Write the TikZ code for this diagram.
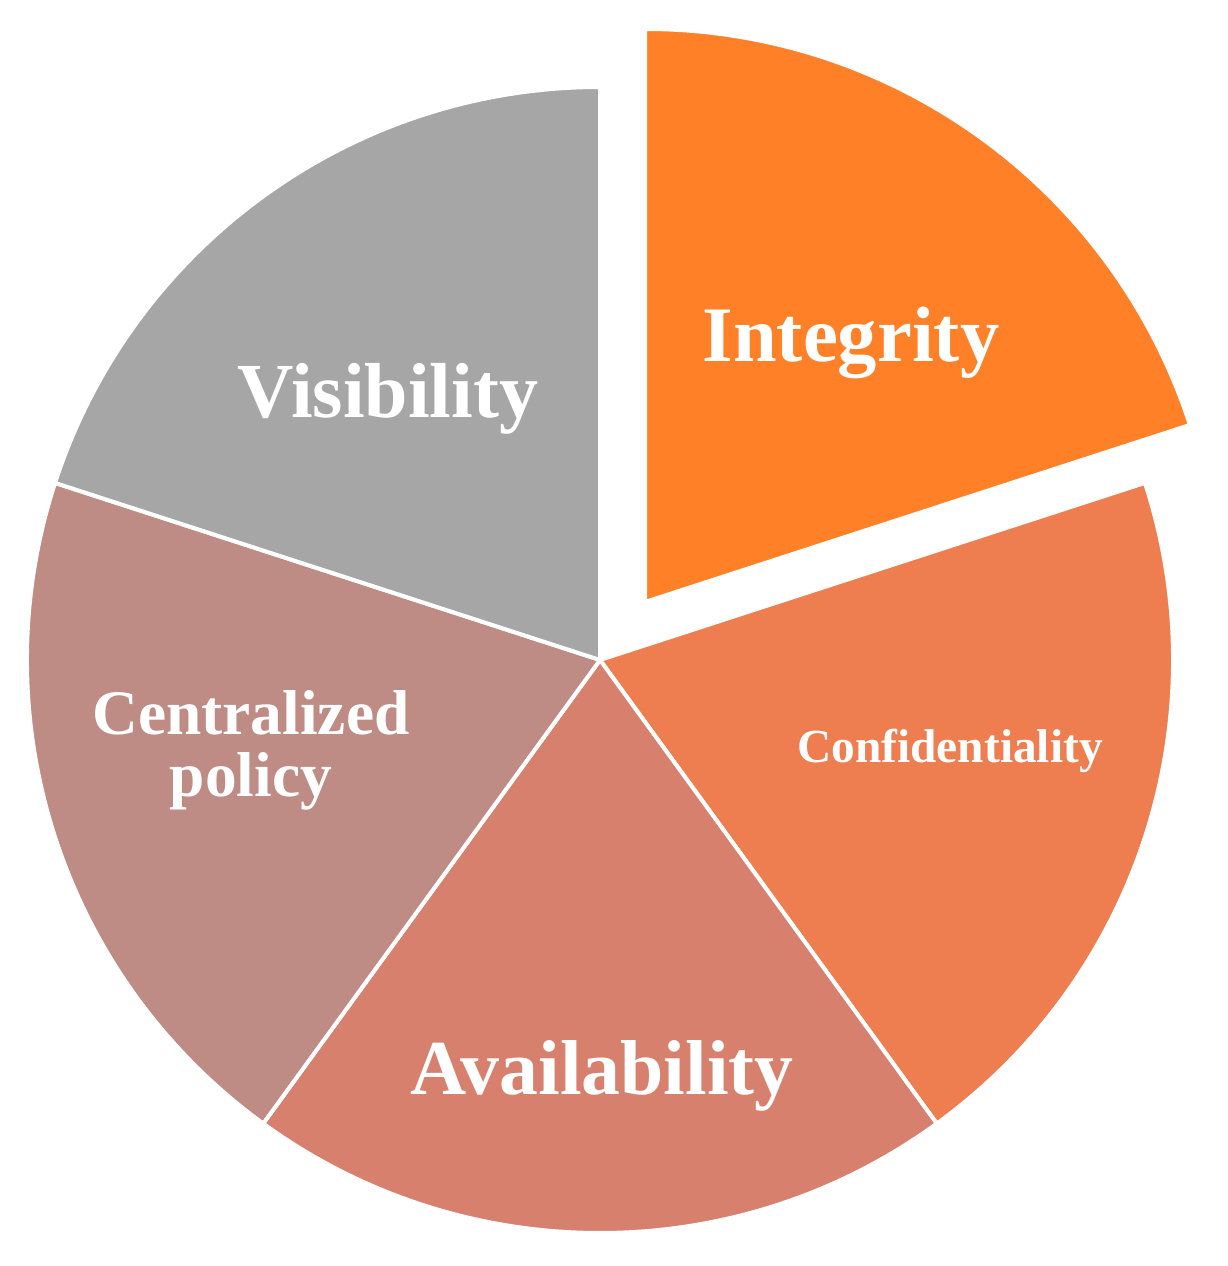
\documentclass[tikz,border=0pt]{standalone}
\usepackage{fontspec}
\setmainfont{Liberation Serif}
\definecolor{cInt}{HTML}{FF8027}
\definecolor{cConf}{HTML}{EE7D50}
\definecolor{cAvail}{HTML}{D8806E}
\definecolor{cCent}{HTML}{BF8B85}
\definecolor{cVis}{HTML}{A6A6A6}
\tikzset{
  slice/.style={draw=white, line width=2pt, line join=round},
  lab/.style={text=white, font=\bfseries, anchor=base, align=center, inner sep=0pt},
}
\begin{document}
\begin{tikzpicture}[x=0.5pt,y=0.5pt]
\useasboundingbox (0,0) rectangle (1228,1266);
\def\R{573}
\coordinate (C) at (600,606);
\coordinate (E) at (645,664);
\fill[slice,fill=cConf] (C) -- ++(18:\R) arc[start angle=18,end angle=-54,radius=\R] -- cycle;
\fill[slice,fill=cAvail] (C) -- ++(-54:\R) arc[start angle=-54,end angle=-126,radius=\R] -- cycle;
\fill[slice,fill=cCent] (C) -- ++(-126:\R) arc[start angle=-126,end angle=-198,radius=\R] -- cycle;
\fill[slice,fill=cVis] (C) -- ++(162:\R) arc[start angle=162,end angle=90,radius=\R] -- cycle;
\fill[slice,fill=cInt] (E) -- ++(90:\R) arc[start angle=90,end angle=18,radius=\R] -- cycle;
\node[lab,font=\bfseries\fontsize{39.3pt}{44pt}\selectfont] (int) at (851,904) {Integrity};
\node[lab,font=\bfseries\fontsize{39pt}{44pt}\selectfont] (vis) at (388,848) {Visibility};
\node[lab,font=\bfseries\fontsize{38.9pt}{44pt}\selectfont] (avail) at (602,171) {Availability};
\node[lab,font=\bfseries\fontsize{23.7pt}{28pt}\selectfont] (conf) at (950,503) {Confidentiality};
\node[lab,font=\bfseries\fontsize{31.7pt}{33.5pt}\selectfont] (cent) at (251,531) {Centralized};
\node[lab,font=\bfseries\fontsize{31.7pt}{33.5pt}\selectfont] (pol) at (251,469) {policy};
\end{tikzpicture}
\end{document}
